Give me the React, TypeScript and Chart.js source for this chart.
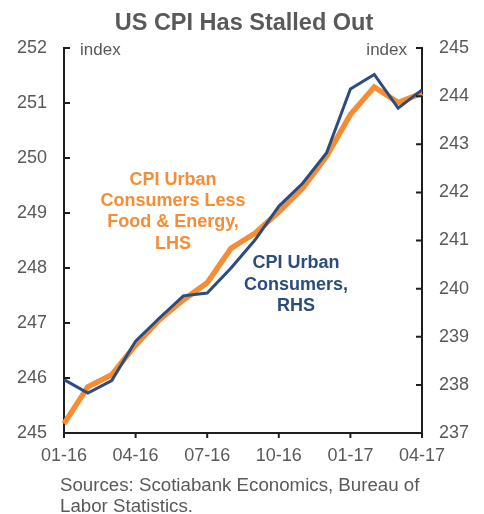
import React, { useEffect, useRef } from "react";
import { Chart, registerables } from "chart.js";

Chart.register(...registerables);

const months = ["01-16","02-16","03-16","04-16","05-16","06-16","07-16","08-16","09-16","10-16","11-16","12-16","01-17","02-17","03-17","04-17"];
const coreCpi = [245.17, 245.84, 246.06, 246.6, 247.06, 247.42, 247.73, 248.36, 248.63, 249.02, 249.45, 250.03, 250.79, 251.29, 251.01, 251.18];
const headlineCpi = [238.11, 237.83, 238.09, 238.91, 239.39, 239.85, 239.91, 240.43, 241.01, 241.71, 242.19, 242.82, 244.15, 244.45, 243.75, 244.13];
const leftRange = [245, 252];
const rightRange = [237, 245];
const title = "US CPI Has Stalled Out";
const orangeLabel = ["CPI Urban", "Consumers Less", "Food & Energy,", "LHS"];
const blueLabel = ["CPI Urban", "Consumers,", "RHS"];
const sources = ["Sources: Scotiabank Economics, Bureau of", "Labor Statistics."];

const ORANGE = "#F68D35";
const BLUE = "#2B4C7E";
const GREY = "#595959";
const AXIS = "#1e1e1e";
const FONT = "'Liberation Sans', Arial, sans-serif";

const overlay = {
  id: "overlay",
  afterDraw(chart: any) {
    const { ctx, chartArea } = chart;
    const x = chart.scales.x;
    const yl = chart.scales.y;
    const yr = chart.scales.y1;
    ctx.save();
    ctx.strokeStyle = AXIS;
    ctx.lineWidth = 2;
    ctx.beginPath();
    months.forEach((_, i) => {
      if (i % 3 === 0) {
        const px = x.getPixelForValue(i);
        ctx.moveTo(px, chartArea.bottom);
        ctx.lineTo(px, chartArea.bottom + 5);
      }
    });
    for (let v = leftRange[0]; v <= leftRange[1]; v++) {
      const py = yl.getPixelForValue(v);
      ctx.moveTo(chartArea.left, py);
      ctx.lineTo(chartArea.left + 6, py);
    }
    for (let v = rightRange[0]; v <= rightRange[1]; v++) {
      const py = yr.getPixelForValue(v);
      ctx.moveTo(chartArea.right, py);
      ctx.lineTo(chartArea.right - 6, py);
    }
    ctx.stroke();

    ctx.textBaseline = "alphabetic";
    // title
    ctx.fillStyle = GREY;
    ctx.font = `bold 23.5px ${FONT}`;
    ctx.textAlign = "center";
    ctx.fillText(title, 244, 29.5);

    // index labels
    ctx.font = `17px ${FONT}`;
    ctx.textAlign = "left";
    ctx.fillText("index", 80, 55);
    ctx.textAlign = "right";
    ctx.fillText("index", 407, 55);

    // series annotations
    ctx.font = `bold 18px ${FONT}`;
    ctx.textAlign = "center";
    ctx.fillStyle = ORANGE;
    orangeLabel.forEach((t, i) => ctx.fillText(t, 173, 185 + i * 21.2));
    ctx.fillStyle = BLUE;
    blueLabel.forEach((t, i) => ctx.fillText(t, 296, 268.3 + i * 21.2));

    // sources
    ctx.fillStyle = GREY;
    ctx.font = `18.7px ${FONT}`;
    ctx.textAlign = "left";
    sources.forEach((t, i) => ctx.fillText(t, 60, 490.5 + i * 21));
    ctx.restore();
  },
};

export default function App() {
  const ref = useRef<HTMLCanvasElement>(null);
  useEffect(() => {
    if (!ref.current) return;
    const tickFont = { family: FONT, size: 18 };
    const chart = new Chart(ref.current, {
      type: "line",
      data: {
        labels: months,
        datasets: [
          {
            label: "CPI Urban Consumers, RHS",
            data: headlineCpi,
            yAxisID: "y1",
            borderColor: BLUE,
            borderWidth: 3,
            pointRadius: 0,
            tension: 0,
            order: 0,
          },
          {
            label: "CPI Urban Consumers Less Food & Energy, LHS",
            data: coreCpi,
            yAxisID: "y",
            borderColor: ORANGE,
            borderWidth: 5.5,
            pointRadius: 0,
            tension: 0,
            order: 1,
          },
        ],
      },
      options: {
        responsive: false,
        animation: false,
        layout: { padding: { top: 48, bottom: 51, left: 0, right: 0 } },
        plugins: { legend: { display: false }, tooltip: { enabled: false }, title: { display: false } },
        scales: {
          x: {
            type: "category",
            grid: { display: false, drawTicks: false },
            border: { display: true, color: AXIS, width: 2 },
            ticks: {
              autoSkip: false,
              maxRotation: 0,
              minRotation: 0,
              color: GREY,
              font: tickFont,
              padding: 12.5,
              callback: (v: any, i: number) => (i % 3 === 0 ? months[i] : ""),
            },
            afterFit: (s: any) => { s.height = 30; },
          },
          y: {
            position: "left",
            min: leftRange[0],
            max: leftRange[1],
            grid: { display: false, drawTicks: false },
            border: { display: true, color: AXIS, width: 2 },
            ticks: { stepSize: 1, color: GREY, font: tickFont, padding: 17 },
            afterFit: (s: any) => { s.width = 64; },
          },
          y1: {
            position: "right",
            min: rightRange[0],
            max: rightRange[1],
            grid: { display: false, drawTicks: false },
            border: { display: true, color: AXIS, width: 2 },
            ticks: { stepSize: 1, color: GREY, font: tickFont, padding: 17 },
            afterFit: (s: any) => { s.width = 62; },
          },
        },
      },
      plugins: [overlay],
    });
    return () => chart.destroy();
  }, []);
  return (
    <div style={{ position: "fixed", left: 0, top: 0, width: 484, height: 514, background: "#fff" }}>
      <canvas ref={ref} width={484} height={514} style={{ display: "block" }} />
    </div>
  );
}
